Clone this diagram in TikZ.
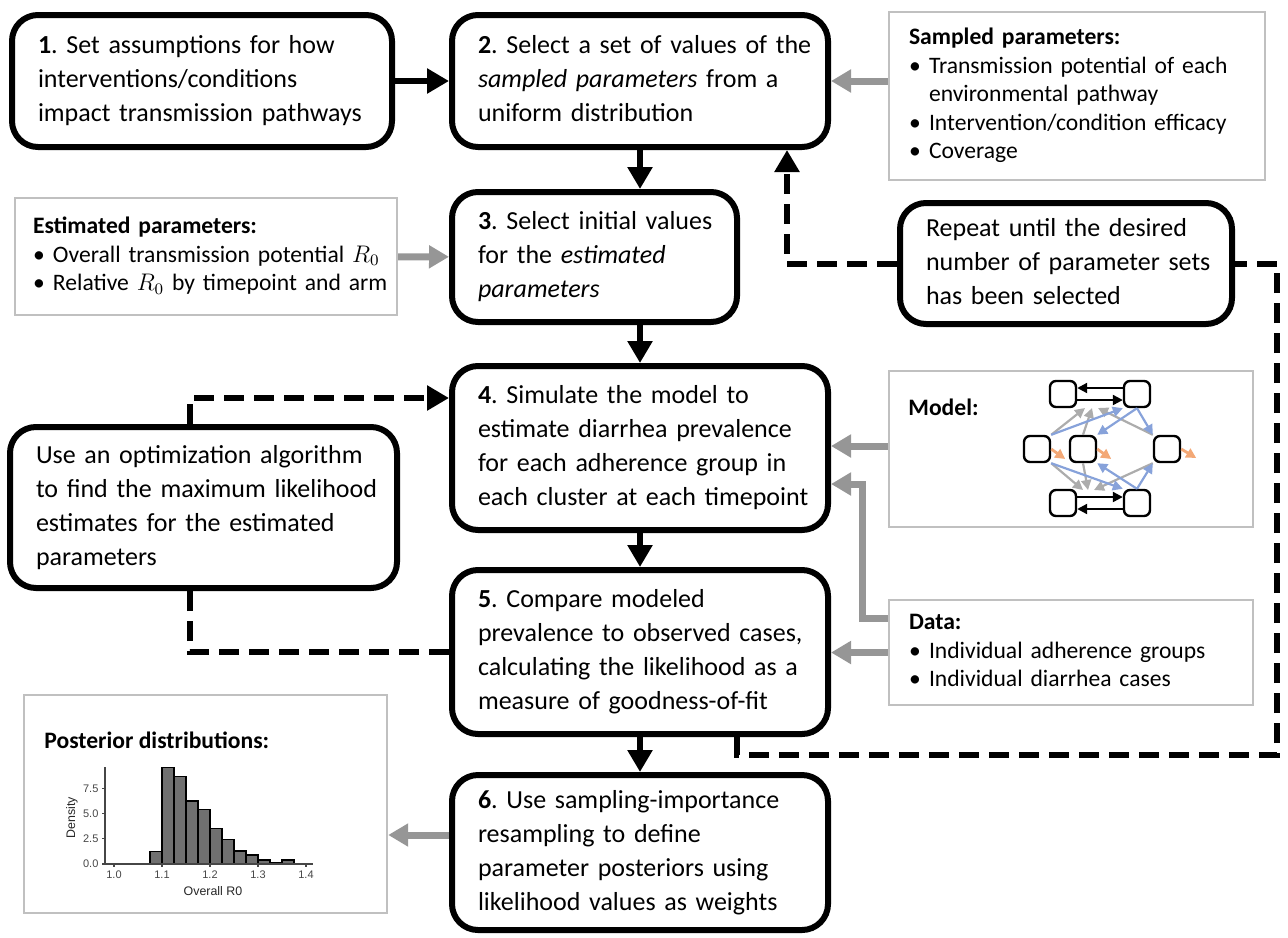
\documentclass[tikz,border=0pt]{standalone}
\usepackage{fontspec}
\setmainfont{Carlito}
\setsansfont{Liberation Sans}
\usetikzlibrary{arrows.meta}
\definecolor{flowgray}{RGB}{150,150,150}
\definecolor{framegray}{RGB}{192,192,192}
\definecolor{modelgray}{RGB}{172,172,172}
\definecolor{modelblue}{RGB}{135,162,218}
\definecolor{modelorange}{RGB}{243,168,118}
\definecolor{bargray}{RGB}{112,112,112}
\definecolor{axisgray}{RGB}{70,70,70}
\newcommand{\mainsize}{\fontsize{13}{17}\selectfont}
\newcommand{\sidesize}{\fontsize{11.8}{14.2}\selectfont}
\newcommand{\bul}{\makebox[10pt][l]{\textbullet}}
\newcommand{\rows}[1]{\begin{tabular}{@{}l@{}}#1\end{tabular}}
\frenchspacing

\tikzset{
  stepbox/.style={draw, line width=3pt, rounded corners=13pt, align=left, inner xsep=13pt, inner ysep=0pt, font=\mainsize},
  infobox/.style={draw=framegray, line width=1.2pt, align=left, inner xsep=10pt, inner ysep=0pt, font=\sidesize},
  flowarrow/.style={line width=3pt, -{Triangle[length=11pt,width=12pt]}},
  feedarrow/.style={draw=flowgray, line width=3.5pt, -{Triangle[length=10pt,width=11pt]}},
  dashloop/.style={line width=3pt, dash pattern=on 10pt off 5pt},
  compbox/.style={draw, line width=1.2pt, rounded corners=3pt, minimum size=13pt, inner sep=0pt},
  modelarrow/.style={line width=1.1pt, -{Triangle[length=5pt,width=5pt]}},
  histbar/.style={draw=black, line width=0.6pt, fill=bargray},
  ticklab/.style={font=\sffamily\fontsize{5.5}{6}\selectfont, text=axisgray, inner sep=1.5pt},
  axisline/.style={draw=axisgray, line width=0.6pt}
}

\begin{document}
\begin{tikzpicture}[x=0.5pt, y=-0.5pt]
	\useasboundingbox (0,0) rectangle (1288,937);

	% main steps
	\node[stepbox, text width=164pt, minimum height=66pt] (s1) at (202,81)
		{\rows{\textbf{1}. Set assumptions for how\\interventions/conditions\\impact transmission pathways}};
	\node[stepbox, text width=162pt, minimum height=66pt] (s2) at (640,81)
		{\rows{\textbf{2}. Select a set of values of the\\\textit{sampled parameters} from a\\uniform distribution}};
	\node[stepbox, text width=116.5pt, minimum height=65pt] (s3) at (594.5,257)
		{\rows{\textbf{3}. Select initial values\\for the \textit{estimated}\\\textit{parameters}}};
	\node[stepbox, text width=162pt, minimum height=82pt] (s4) at (640,448)
		{\rows{\textbf{4}. Simulate the model to\\estimate diarrhea prevalence\\for each adherence group in\\each cluster at each timepoint}};
	\node[stepbox, text width=162pt, minimum height=82pt] (s5) at (640,652)
		{\rows{\textbf{5}. Compare modeled\\prevalence to observed cases,\\calculating the likelihood as a\\measure of goodness-of-fit}};
	\node[stepbox, text width=162pt, minimum height=77.5pt] (s6) at (640,852.5)
		{\rows{\textbf{6}. Use sampling-importance\\resampling to define\\parameter posteriors using\\likelihood values as weights}};
	\node[stepbox, text width=167.5pt, minimum height=80.5pt] (opt) at (203.5,507.5)
		{\rows{Use an optimization algorithm\\to find the maximum likelihood\\estimates for the estimated\\parameters}};
	\node[stepbox, text width=140pt, minimum height=60.5pt] (rep) at (1066,263.5)
		{\rows{Repeat until the desired\\number of parameter sets\\has been selected}};

	% side boxes
	\node[infobox, text width=168pt, minimum height=84pt] (samp) at (1077,96)
		{\rows{\textbf{Sampled parameters:}\\\bul Transmission potential of each\\\hspace*{10pt}environmental pathway\\\bul Intervention/condition efficacy\\\bul Coverage}};
	\node[infobox, inner xsep=9pt, text width=173pt, minimum height=58.5pt] (est) at (206,256.5)
		{\rows{\textbf{Estimated parameters:}\\\bul Overall transmission potential $R_0$\\\bul Relative $R_0$ by timepoint and arm}};
	\node[infobox, text width=162pt, minimum height=52.5pt] (data) at (1071,652.5)
		{\rows{\textbf{Data:}\\\bul Individual adherence groups\\\bul Individual diarrhea cases}};
	\node[infobox, minimum width=182pt, minimum height=78pt] (model) at (1071,449) {};
	\node[font=\sidesize\bfseries, anchor=west, inner sep=0pt] (modeltitle) at (908,407) {Model:};
	\node[infobox, minimum width=181.5pt, minimum height=109pt] (post) at (205.5,804) {};
	\node[font=\sidesize\bfseries, anchor=west, inner sep=0pt] (posttitle) at (44,740) {Posterior distributions:};

	% flow
	\draw[flowarrow] (s1) -- (s2);
	\draw[flowarrow] (s2.south) -- (s2.south |- s3.north);
	\draw[flowarrow] (s4.north |- s3.south) -- (s4.north);
	\draw[flowarrow] (s4) -- (s5);
	\draw[flowarrow] (s5) -- (s6);

	% inputs
	\draw[feedarrow] (samp.west |- s2.east) -- (s2.east);
	\draw[feedarrow] (est) -- (s3);
	\draw[feedarrow] (model.west |- 0,446) -- (s4.east |- 0,446);
	\draw[feedarrow] (data.west |- 0,618) -- ++(-25,0) |- (s4.east |- 0,484);
	\draw[feedarrow] (data.west) -- (data.west -| s5.east);
	\draw[feedarrow] (s6.west |- 0,835) -- (post.east |- 0,835);

	% loops
	\draw[dashloop] (s5.west) -| (opt.south -| 190,0);
	\draw[dashloop, -{Triangle[length=11pt,width=12pt]}] (opt.north -| 190,0) |- (s4.west |- 0,398);
	\coordinate (loopcorner) at (1277,755);
	\draw[dashloop] (s5.south -| 737,0) |- (loopcorner) |- (rep.east);
	\draw[dashloop, -{Triangle[length=11pt,width=12pt]}] (rep.west) -| (s2.south -| 787,0);

	% model sketch
	\node[compbox] (tl) at (1063,394) {};
	\node[compbox] (tr) at (1137,394) {};
	\node[compbox] (ml) at (1037,449) {};
	\node[compbox] (mc) at (1083,449) {};
	\node[compbox] (mr) at (1167,449) {};
	\node[compbox] (bl) at (1063,503) {};
	\node[compbox] (br) at (1137,503) {};
	\draw[modelarrow] ([yshift=3pt]tr.west) -- ([yshift=3pt]tl.east);
	\draw[modelarrow] ([yshift=-3pt]tl.east) -- ([yshift=-3pt]tr.west);
	\draw[modelarrow] ([yshift=3pt]bl.east) -- ([yshift=3pt]br.west);
	\draw[modelarrow] ([yshift=-3pt]br.west) -- ([yshift=-3pt]bl.east);
	\draw[modelarrow, modelgray] (ml.north east) -- (1085,408);
	\draw[modelarrow, modelgray] (mc.north) -- (1092,408);
	\draw[modelarrow, modelgray] (mr.north west) -- (1098,408);
	\draw[modelarrow, modelgray] (ml.south east) -- (1083,490);
	\draw[modelarrow, modelgray] (mc.south) -- (1088,490);
	\draw[modelarrow, modelgray] (mr.south west) -- (1094,490);
	\draw[modelarrow, modelblue] (ml.north east) -- (tr.south west);
	\draw[modelarrow, modelblue] (tr.south) -- (mc.north east);
	\draw[modelarrow, modelblue] (tr.south) -- (mr.north west);
	\draw[modelarrow, modelblue] (ml.south east) -- (br.north west);
	\draw[modelarrow, modelblue] (br.north) -- (mc.south east);
	\draw[modelarrow, modelblue] (br.north) -- (mr.south west);
	\draw[modelarrow, modelorange, line width=1.4pt] (ml.east) -- ++(14,10);
	\draw[modelarrow, modelorange, line width=1.4pt] (mc.east) -- ++(14,10);
	\draw[modelarrow, modelorange, line width=1.4pt] (mr.east) -- ++(15,9);

	% posterior histogram
	\foreach \h [count=\i from 0] in {1.22,9.54,8.68,6.24,5.41,3.53,2.44,1.29,0.89,0.40,0.10,0.40}
		\draw[histbar] ({150+12*\i},864) rectangle ++(12,{-\h*10.09});
	\draw[axisline] (105,767) -- (105,864) -- (313,864);
	\foreach \v [count=\i from 0] in {1.0,1.1,1.2,1.3,1.4}
		\draw[axisline] ({114+48*\i},864) -- ++(0,3) node[below, ticklab] (xt\i) {\v};
	\foreach \v [count=\i from 0] in {0.0,2.5,5.0,7.5}
		\draw[axisline] (105,{864-25.2*\i}) -- ++(-3,0) node[left, ticklab] (yt\i) {\v};
	\node[ticklab, font=\sffamily\fontsize{6.2}{7}\selectfont, text=black!85, rotate=90] (ylab) at (72,818) {Density};
	\node[ticklab, font=\sffamily\fontsize{6.2}{7}\selectfont, text=black!85] (xlab) at (213,891) {Overall R0};
\end{tikzpicture}
\end{document}
